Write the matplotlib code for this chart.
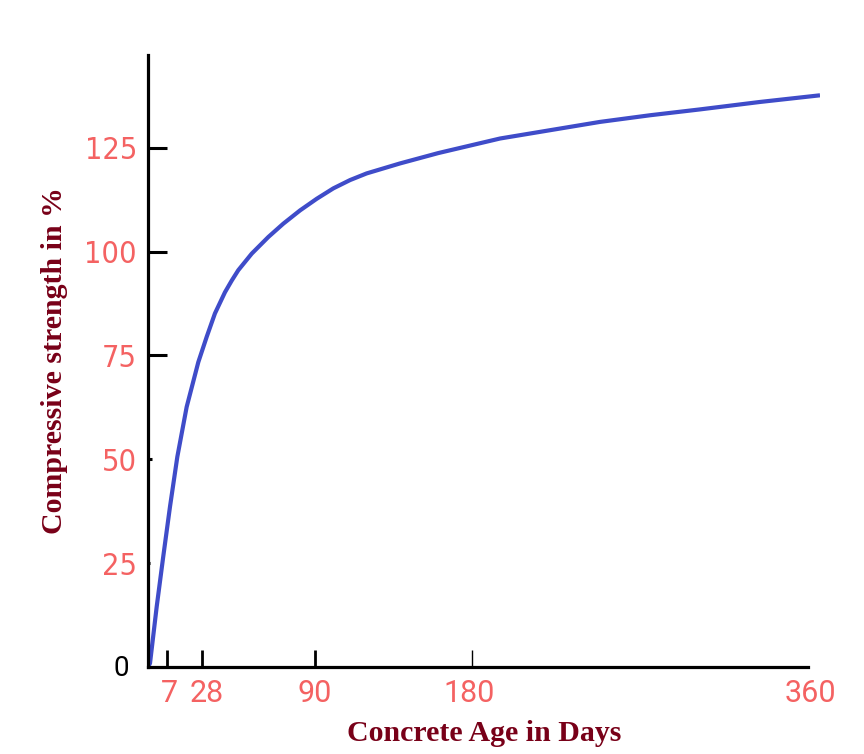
import numpy as np
from matplotlib import pyplot as plt
from matplotlib.transforms import ScaledTranslation

# curve: concrete age (days) vs compressive strength (%)
age_days = [0, 0.74, 3.2, 5.6, 8.8, 13.2, 18.8, 25.8, 30.6, 35.1, 40.6, 44.3,
            47.9, 55.3, 64.4, 72.6, 81.8, 91.0, 100.5, 110.1, 119.6, 138.7,
            160.7, 195, 221.8, 248.6, 275.4, 302, 334.3, 366.4]
strength_pct = [0, 0.9, 14.5, 26.5, 38.6, 50.6, 62.6, 73.4, 79.5, 85.1, 90.2, 93.0,
                95.5, 99.5, 103.5, 106.7, 109.9, 112.7, 115.2, 117.2, 118.8, 121.2,
                123.7, 127.2, 129.2, 131.2, 132.8, 134.2, 136.0, 137.6]

x_ticks = [7, 28, 90, 180, 360]
y_ticks = [0, 25, 50, 75, 100, 125]

# the drawn x axis is not quite linear, so map days -> pixel offsets
scale_days = [0, 7, 28, 90, 180, 360, 400]
scale_px = [0, 19, 54, 167, 324, 660, 734.7]


def fwd(x):
    return np.interp(x, scale_days, scale_px)


def inv(x):
    return np.interp(x, scale_px, scale_days)


salmon = '#f46262'
darkred = '#780018'

fig = plt.figure(figsize=(8.64, 7.54), dpi=100)
ax = fig.add_axes([148 / 864, 87 / 754, 672 / 864, 612 / 754])
ax.set_xscale('function', functions=(fwd, inv))

ax.plot(age_days, strength_pct, color='#3f4cc9', linewidth=3,
        solid_capstyle='butt', solid_joinstyle='round')

ax.set_xlim(0, 366.4)
ax.set_ylim(0, 147.3)

for side in ['top', 'right']:
    ax.spines[side].set_visible(False)
ax.spines['bottom'].set_bounds(0, 360)
ax.spines['left'].set_linewidth(2.3)
ax.spines['bottom'].set_linewidth(2.3)

ax.set_xticks(x_ticks)
ax.set_xticklabels([str(v) for v in x_ticks])
ax.set_yticks(y_ticks)
ax.set_yticklabels([str(v) for v in y_ticks])

ax.tick_params(axis='x', direction='in', length=12, width=2, pad=9,
               labelsize=22, labelcolor=salmon)
ax.tick_params(axis='y', direction='in', length=14, width=2.2, pad=8,
               labelsize=22, labelcolor=salmon)
for lab in ax.get_xticklabels():
    lab.set_family('Roboto')
for lab in ax.get_yticklabels():
    lab.set_family('DejaVu Sans')
    lab.set_fontstretch('condensed')

# y ticks get shorter towards the bottom, 180 tick is thin, 360 has none
y_lens = [0, 1.5, 3, 14, 14, 14]
for t, L in zip(ax.yaxis.get_major_ticks(), y_lens):
    t.tick1line.set_markersize(L)
x_widths = [2, 2, 2, 1, 0]
for t, w in zip(ax.xaxis.get_major_ticks(), x_widths):
    t.tick1line.set_markeredgewidth(w)
    if w == 0:
        t.tick1line.set_visible(False)

# "7" and "28" sit a little right of their ticks
x_shift = [0.025, 0.05, 0, -0.03, 0.02]
for lab, dx in zip(ax.get_xticklabels(), x_shift):
    lab.set_transform(lab.get_transform() + ScaledTranslation(dx, 0, fig.dpi_scale_trans))

zero_lab = ax.get_yticklabels()[0]
zero_lab.set_color('black')
zero_lab.set_family('Roboto')
zero_lab.set_fontsize(20)
zero_lab.set_transform(zero_lab.get_transform() + ScaledTranslation(-0.08, 0.02, fig.dpi_scale_trans))

ax.set_xlabel('Concrete Age in Days', fontsize=21.5, fontweight='bold',
              family='Liberation Serif', color=darkred, labelpad=8)
ax.set_ylabel('Compressive strength in %', fontsize=21.5, fontweight='bold',
              family='Liberation Serif', color=darkred, labelpad=12)

fig.savefig('out.png', dpi=100)
